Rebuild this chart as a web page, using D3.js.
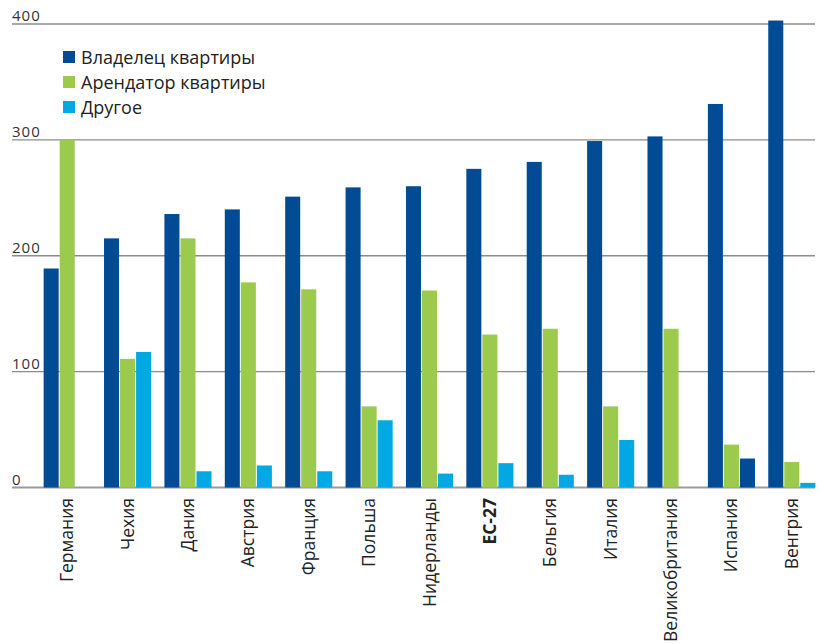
<!DOCTYPE html>
<html>
<head>
<meta charset="utf-8">
<script src="https://cdn.jsdelivr.net/npm/d3@7"></script>
<style>
  html, body { margin: 0; padding: 0; background: #fff; }
  svg { display: block; font-family: "Open Sans", "Noto Sans", sans-serif; }
</style>
</head>
<body>
<svg id="chart" width="821" height="644"></svg>
<script>
// Countries (category axis)
const countries = ["Германия", "Чехия", "Дания", "Австрия", "Франция", "Польша",
  "Нидерланды", "ЕС-27", "Бельгия", "Италия", "Великобритания", "Испания", "Венгрия"];

// Series values per country
const owners  = [189, 215, 236, 240, 251, 259, 260, 275, 281, 299, 303, 331, 403];
const tenants = [300, 111, 215, 177, 171, 70, 170, 132, 137, 70, 137, 37, 22];
const other   = [0, 117, 14, 19, 14, 58, 12, 21, 11, 41, 0, 25, 4];

const seriesNames = ["Владелец квартиры", "Арендатор квартиры", "Другое"];
const seriesColors = ["#004b93", "#9bca4c", "#00a9e3"];

// The "Другое" bar of Spain is printed in the owner colour
const otherColorOverride = { "Испания": "#004b93" };

const yTicks = [0, 100, 200, 300, 400];
const boldCategory = "ЕС-27";

const series = [owners, tenants, other];

const svg = d3.select("#chart");

const y = d3.scaleLinear().domain([0, 400]).range([487.5, 24]);

const x0 = d3.scaleBand()
  .domain(countries)
  .range([37, 822])
  .paddingInner(0.22)
  .paddingOuter(0.11);

const x1 = d3.scaleBand()
  .domain(d3.range(series.length))
  .range([0, x0.bandwidth()])
  .paddingInner(0.0625);

// Grid lines and their labels
const grid = svg.append("g");
grid.selectAll("line")
  .data(yTicks)
  .join("line")
  .attr("x1", 12).attr("x2", 815)
  .attr("y1", d => y(d)).attr("y2", d => y(d))
  .attr("stroke", d => d === 0 ? "#9a9a9a" : "#8c8c8c")
  .attr("stroke-width", d => d === 0 ? 2 : 1.4);

grid.selectAll("text")
  .data(yTicks)
  .join("text")
  .attr("x", 12)
  .attr("y", d => y(d) - 3)
  .attr("font-size", 15)
  .attr("letter-spacing", 1)
  .attr("fill", "#333")
  .text(d => d);

// Bars
const bars = svg.append("g");
countries.forEach((c, i) => {
  series.forEach((vals, s) => {
    const v = vals[i];
    if (!v) return;
    let color = seriesColors[s];
    if (s === 2 && otherColorOverride[c]) color = otherColorOverride[c];
    bars.append("rect")
      .attr("x", x0(c) + x1(s))
      .attr("y", y(v))
      .attr("width", x1.bandwidth())
      .attr("height", y(0) - y(v))
      .attr("fill", color);
  });
});

// Category labels, rotated
svg.append("g")
  .selectAll("text")
  .data(countries)
  .join("text")
  .attr("transform", d => `translate(${x0(d) + x0.bandwidth() / 2 + 6},498) rotate(-90)`)
  .attr("text-anchor", "end")
  .attr("font-size", 17.5)
  .attr("font-weight", d => d === boldCategory ? 700 : 400)
  .attr("fill", "#222")
  .text(d => d);

// Legend
const legend = svg.append("g");
seriesNames.forEach((name, i) => {
  const g = legend.append("g").attr("transform", `translate(63,${51 + i * 25})`);
  g.append("rect").attr("width", 12).attr("height", 12).attr("fill", seriesColors[i]);
  g.append("text").attr("x", 18).attr("y", 13)
    .attr("font-size", 18).attr("fill", "#222").text(name);
});
</script>
</body>
</html>
